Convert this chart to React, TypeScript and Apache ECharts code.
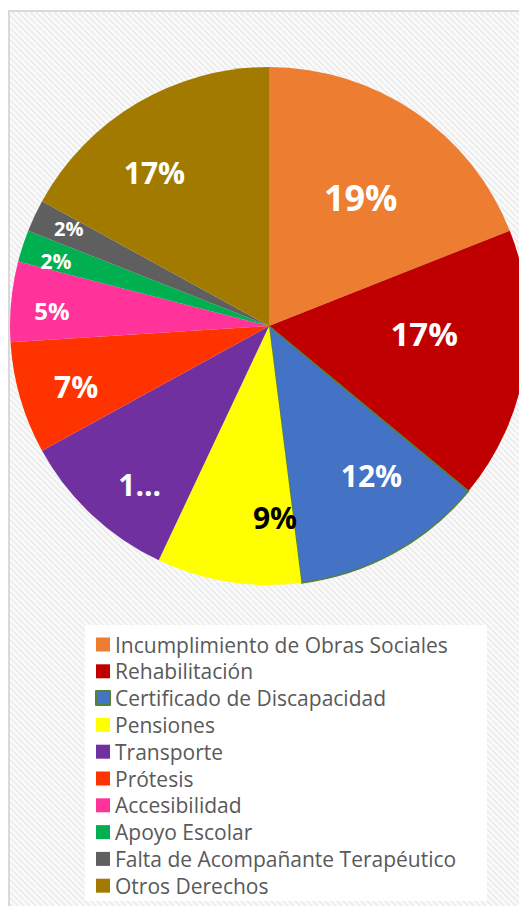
import React, { useEffect, useRef } from "react";
import * as echarts from "echarts";

const categories = [
  "Incumplimiento de Obras Sociales",
  "Rehabilitación",
  "Certificado de Discapacidad",
  "Pensiones",
  "Transporte",
  "Prótesis",
  "Accesibilidad",
  "Apoyo Escolar",
  "Falta de Acompañante Terapéutico",
  "Otros Derechos",
];
const values = [19, 17, 12, 9, 10, 7, 5, 2, 2, 17];
const labelTexts = ["19%", "17%", "12%", "9%", "1...", "7%", "5%", "2%", "2%", "17%"];

const colors = ["#ED7D31", "#C00000", "#4472C4", "#FFFF00", "#7030A0", "#FF3300", "#FF3399", "#00B050", "#5F5F5F", "#A27A00"];
const labelSizes = [36, 33, 30, 30, 30, 30, 24, 21, 20, 30];
const labelColors = ["#fff", "#fff", "#fff", "#000", "#fff", "#fff", "#fff", "#fff", "#fff", "#fff"];
const labelRadiusFactor = [0.61, 0.6, 0.7, 0.74, 0.79, 0.78, 0.84, 0.86, 0.86, 0.74];
const labelAngleAdjust = [1.3, -6.4, -5.6, -10.8, -4, -1.1, -1.2, -1, 0.8, -6.1];

const CX = 269;
const CY = 326;
const R = 259;

function makePattern(): string {
  const s = 6;
  const c = document.createElement("canvas");
  c.width = s;
  c.height = s;
  const ctx = c.getContext("2d");
  if (!ctx) return "";
  ctx.fillStyle = "#fafafa";
  ctx.fillRect(0, 0, s, s);
  ctx.strokeStyle = "#ebebeb";
  ctx.lineWidth = 1.6;
  for (let k = -1; k <= 1; k++) {
    ctx.beginPath();
    ctx.moveTo(k * s, 0);
    ctx.lineTo(k * s + s, s);
    ctx.stroke();
  }
  return c.toDataURL();
}

export default function App() {
  const ref = useRef<HTMLDivElement>(null);
  useEffect(() => {
    if (!ref.current) return;
    const chart = echarts.init(ref.current, undefined, { renderer: "svg" });
    const total = values.reduce((a, b) => a + b, 0);
    const pat = makePattern();
    const panelFill: any = pat ? { image: pat, repeat: "repeat" } : "#f5f5f5";
    chart.setOption({
      animation: false,
      backgroundColor: "#ffffff",
      graphic: [
        {
          type: "rect",
          z: -10,
          shape: { x: 9, y: 11, width: 530, height: 910 },
          style: { fill: panelFill, stroke: "#d9d9d9", lineWidth: 2 },
          silent: true,
        },
        {
          type: "rect",
          z: -9,
          shape: { x: 85, y: 625, width: 402, height: 276 },
          style: { fill: "#ffffff" },
          silent: true,
        },
      ],
      legend: {
        orient: "vertical",
        left: 95,
        top: 634,
        height: 320,
        padding: 0,
        data: categories,
        icon: "rect",
        itemWidth: 14,
        itemHeight: 14,
        itemGap: 5.8,
        selectedMode: false,
        textStyle: { fontFamily: "Open Sans", fontSize: 21, color: "#595959", lineHeight: 20 },
      },
      series: [
        {
          type: "pie",
          center: [CX, CY],
          radius: R,
          startAngle: 90,
          clockwise: true,
          avoidLabelOverlap: false,
          emphasis: { disabled: true },
          itemStyle: { borderWidth: 0 },
          label: {
            show: true,
            position: "inside",
            fontFamily: "Open Sans",
            fontWeight: "bold",
          },
          labelLine: { show: false },
          labelLayout: (params: any) => {
            const i = params.dataIndex;
            let before = 0;
            for (let k = 0; k < i; k++) before += values[k];
            const ang = ((before + values[i] / 2) / total) * 360 + labelAngleAdjust[i];
            const rad = (ang * Math.PI) / 180;
            const d = R * labelRadiusFactor[i];
            return { x: CX + d * Math.sin(rad), y: CY - d * Math.cos(rad) };
          },
          data: categories.map((name, i) => ({
            name,
            value: values[i],
            itemStyle:
              i === 2
                ? { color: colors[i], borderColor: "#548235", borderWidth: 1.5 }
                : { color: colors[i] },
            label: {
              formatter: labelTexts[i],
              fontSize: labelSizes[i],
              color: labelColors[i],
            },
          })),
        },
      ],
    });
    return () => chart.dispose();
  }, []);
  return <div ref={ref} style={{ position: "fixed", left: 0, top: 0, width: 519, height: 906 }} />;
}
